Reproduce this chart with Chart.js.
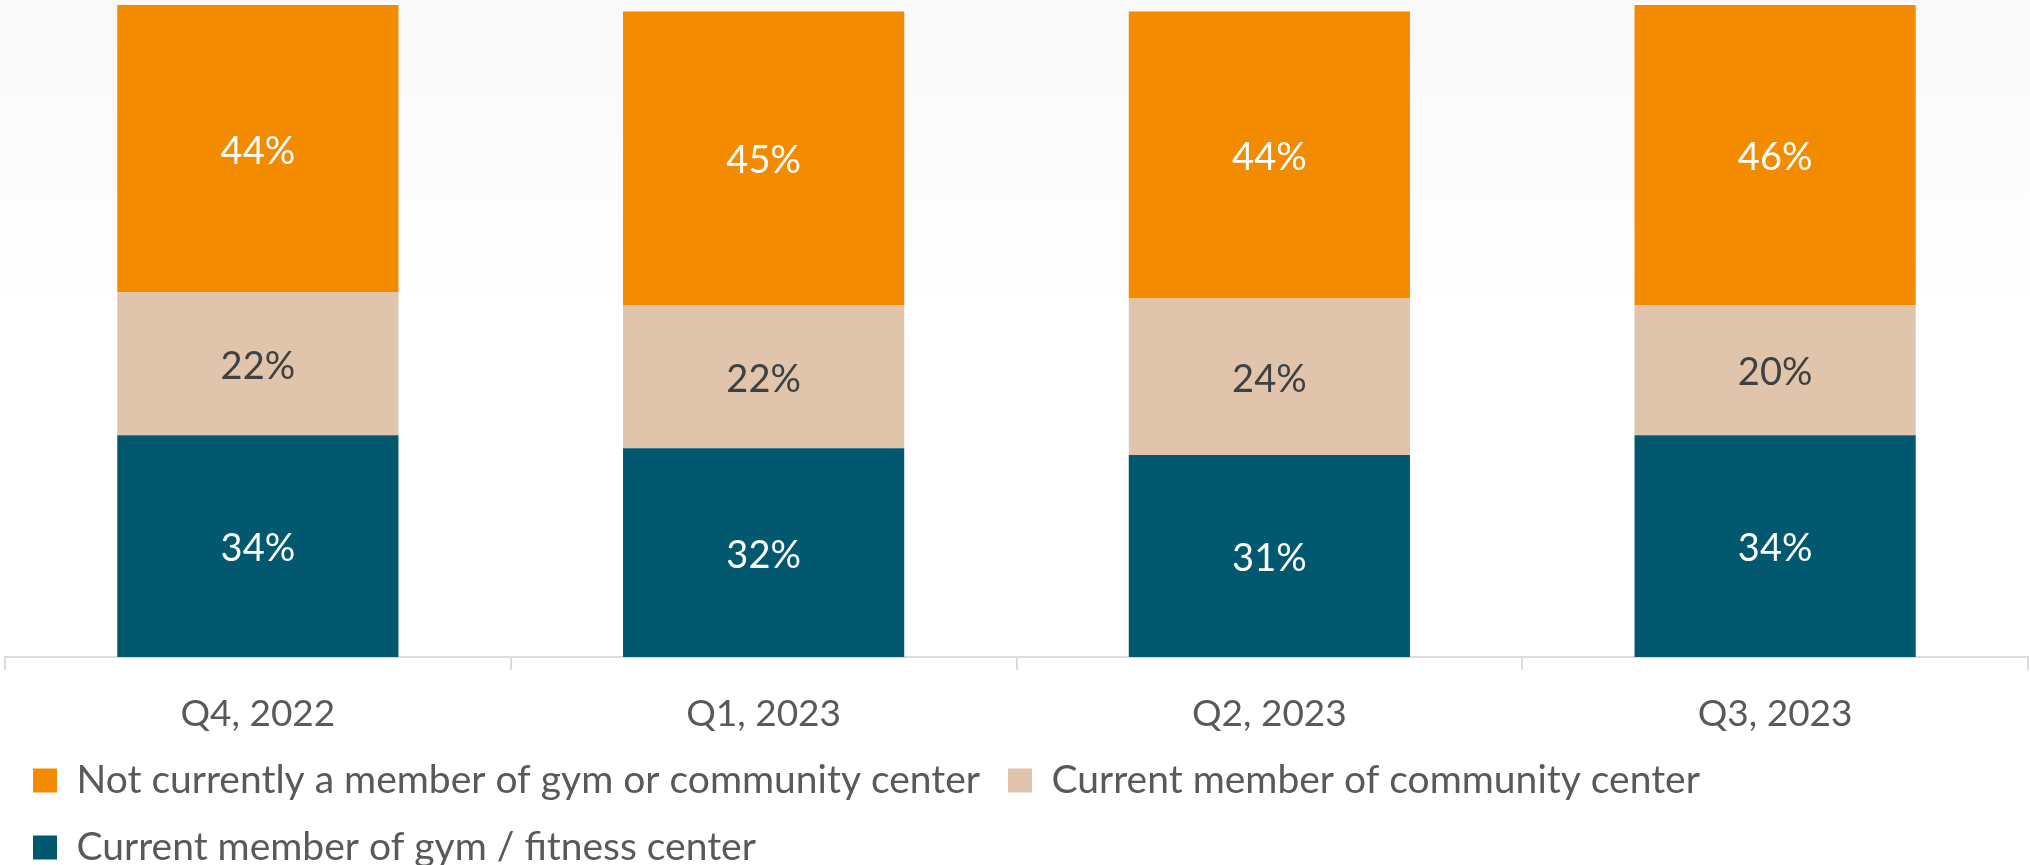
<!DOCTYPE html>
<html>
<head>
<meta charset="utf-8">
<title>Gym and community center membership</title>
<script src="https://cdn.jsdelivr.net/npm/chart.js@4.4.1/dist/chart.umd.min.js"></script>
<style>
    html, body {
        margin: 0;
        padding: 0;
        overflow: hidden;
    }
    body {
        width: 2030px;
        height: 865px;
        background: linear-gradient(#f9f9f9, #ffffff 320px);
    }
    #membership-chart {
        display: block;
    }
</style>
</head>
<body>
<canvas id="membership-chart" width="2030" height="865"></canvas>
<script>
// Quarters on the x axis
var quarters = ['Q4, 2022', 'Q1, 2023', 'Q2, 2023', 'Q3, 2023'];

// Share of respondents per quarter (%)
var gymMembers = [34, 32, 31, 34];
var communityMembers = [22, 22, 24, 20];
var nonMembers = [44, 45, 44, 46];

var seriesNames = [
    'Current member of gym / fitness center',
    'Current member of community center',
    'Not currently a member of gym or community center'
];

var FONT = 'Lato';
var TEXT_GREY = '#595959';

// Writes the value in the middle of each stacked segment
var segmentLabels = {
    id: 'segmentLabels',
    afterDatasetsDraw: function(chart) {
        var ctx = chart.ctx;
        ctx.save();
        ctx.font = '38px ' + FONT;
        ctx.textAlign = 'center';
        ctx.textBaseline = 'middle';

        chart.data.datasets.forEach(function(dataset, i) {
            var meta = chart.getDatasetMeta(i);
            ctx.fillStyle = dataset.labelColor;
            meta.data.forEach(function(bar, j) {
                var center = bar.getCenterPoint();
                ctx.fillText(dataset.data[j] + '%', center.x, center.y + 3);
            });
        });

        ctx.restore();
    }
};

function drawChart() {
    var canvas = document.getElementById('membership-chart');

    new Chart(canvas, {
        type: 'bar',
        data: {
            labels: quarters,
            datasets: [
                {
                    label: seriesNames[0],
                    data: gymMembers,
                    backgroundColor: '#02586F',
                    labelColor: '#ffffff'
                },
                {
                    label: seriesNames[1],
                    data: communityMembers,
                    backgroundColor: '#E0C5AC',
                    labelColor: '#404040'
                },
                {
                    label: seriesNames[2],
                    data: nonMembers,
                    backgroundColor: '#F28B00',
                    labelColor: '#ffffff'
                }
            ]
        },
        options: {
            responsive: false,
            devicePixelRatio: 1,
            animation: false,
            layout: {
                padding: { left: 5, right: 2, top: 5, bottom: -12 }
            },
            datasets: {
                bar: {
                    categoryPercentage: 1,
                    barPercentage: 0.556
                }
            },
            scales: {
                x: {
                    stacked: true,
                    grid: {
                        offset: true,
                        drawOnChartArea: false,
                        color: '#dcdcdc',
                        lineWidth: 2,
                        tickLength: 13
                    },
                    border: {
                        color: '#dcdcdc',
                        width: 2
                    },
                    ticks: {
                        color: TEXT_GREY,
                        padding: 26,
                        font: { family: FONT, size: 37, lineHeight: 1 }
                    },
                    // keep the axis band tight so the legend sits right under the labels
                    afterFit: function(scale) {
                        scale.height = 76;
                    }
                },
                y: {
                    stacked: true,
                    display: false,
                    min: 0,
                    max: 100
                }
            },
            plugins: {
                tooltip: { enabled: false },
                legend: {
                    position: 'bottom',
                    align: 'start',
                    reverse: true,
                    labels: {
                        boxWidth: 24,
                        boxHeight: 24,
                        padding: 28,
                        color: TEXT_GREY,
                        font: { family: FONT, size: 39 }
                    }
                }
            }
        },
        plugins: [segmentLabels]
    });
}

if (document.fonts && document.fonts.load) {
    document.fonts.load('39px ' + FONT).then(drawChart, drawChart);
} else {
    drawChart();
}
</script>
</body>
</html>
